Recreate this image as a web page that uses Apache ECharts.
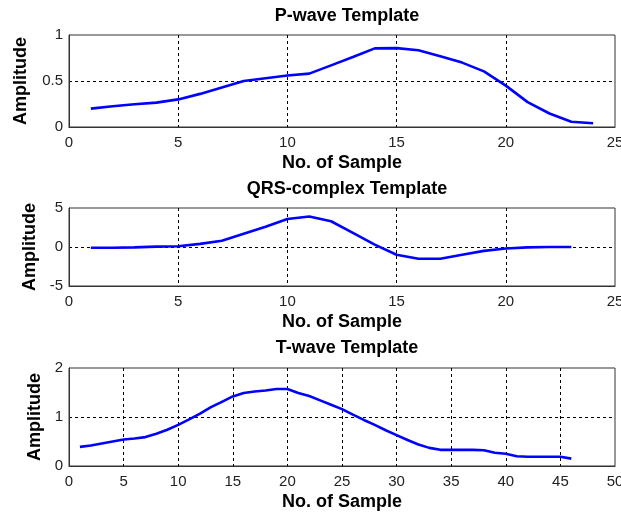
<!DOCTYPE html>
<html>
<head>
<meta charset="utf-8">
<script src="https://cdn.jsdelivr.net/npm/echarts@6/dist/echarts.min.js"></script>
<style>
  html, body { margin: 0; padding: 0; background: #fff; }
  #chart { width: 621px; height: 516px; }
</style>
</head>
<body>
<div id="chart"></div>
<script>
// Template waveforms (amplitude per sample, samples numbered from 1)
const pWave = [0.20, 0.226, 0.247, 0.265, 0.30, 0.36, 0.43, 0.50, 0.53, 0.56, 0.58, 0.67,
  0.76, 0.855, 0.857, 0.835, 0.77, 0.70, 0.605, 0.45, 0.27, 0.147, 0.057, 0.04];
const qrsComplex = [-0.1, -0.1, -0.05, 0.05, 0.1, 0.4, 0.8, 1.7, 2.6, 3.6, 3.9, 3.3,
  1.8, 0.3, -1.0, -1.5, -1.5, -1.0, -0.5, -0.2, -0.05, 0, 0];
const tWave = [0.39, 0.42, 0.46, 0.50, 0.54, 0.56, 0.59, 0.66, 0.74, 0.84, 0.95, 1.07,
  1.20, 1.31, 1.42, 1.49, 1.52, 1.54, 1.57, 1.57, 1.49, 1.43, 1.34, 1.25, 1.16, 1.05,
  0.94, 0.84, 0.73, 0.63, 0.53, 0.44, 0.37, 0.33, 0.33, 0.33, 0.33, 0.32, 0.27, 0.25,
  0.20, 0.19, 0.19, 0.19, 0.19, 0.15];

const titles = ['P-wave Template', 'QRS-complex Template', 'T-wave Template'];
const xLabel = 'No. of Sample';
const yLabel = 'Amplitude';

// Axis ranges per panel: [min, max, interval]
const xRanges = [[0, 25, 5], [0, 25, 5], [0, 50, 5]];
const yRanges = [[0, 1, 0.5], [-5, 5, 5], [0, 2, 1]];

const FONT = '"Liberation Sans", Arial, sans-serif';
const panels = [
  { top: 35, height: 92, titleTop: 2, yNameGap: 39 },
  { top: 208, height: 78, titleTop: 175, yNameGap: 29 },
  { top: 368, height: 98, titleTop: 334, yNameGap: 24 }
];
const waves = [pWave, qrsComplex, tWave];

const toPoints = arr => arr.map((v, i) => [i + 1, v]);

// Dotted grid only inside the box; the frame itself stays solid
const dashed = {
  show: true, showMinLine: false, showMaxLine: false,
  lineStyle: { color: '#000', width: 1, type: [3, 3] }
};

const option = {
  animation: false,
  backgroundColor: '#fff',
  title: panels.map((p, i) => ({
    text: titles[i],
    left: 342,
    textAlign: 'center',
    top: p.titleTop,
    textStyle: { fontFamily: FONT, fontSize: 18, fontWeight: 'bold', color: '#000' }
  })),
  grid: panels.map(p => ({
    left: 69, width: 546, top: p.top, height: p.height,
    outerBoundsMode: 'none',
    containLabel: false,
    show: true, borderColor: '#333', borderWidth: 1, backgroundColor: 'transparent'
  })),
  xAxis: panels.map((p, i) => ({
    gridIndex: i,
    type: 'value',
    min: xRanges[i][0], max: xRanges[i][1], interval: xRanges[i][2],
    name: xLabel,
    nameLocation: 'middle',
    nameGap: 27,
    nameTextStyle: { fontFamily: FONT, fontSize: 18, fontWeight: 'bold', color: '#000' },
    axisLine: { show: true, onZero: false, lineStyle: { color: '#333', width: 1 } },
    axisTick: { show: false },
    axisLabel: { margin: 8, fontFamily: FONT, fontSize: 15, color: '#222' },
    splitLine: dashed
  })),
  yAxis: panels.map((p, i) => ({
    gridIndex: i,
    type: 'value',
    min: yRanges[i][0], max: yRanges[i][1], interval: yRanges[i][2],
    name: yLabel,
    nameLocation: 'middle',
    nameGap: p.yNameGap,
    nameRotate: 90,
    nameTextStyle: { fontFamily: FONT, fontSize: 18, fontWeight: 'bold', color: '#000' },
    axisLine: { show: true, onZero: false, lineStyle: { color: '#333', width: 1 } },
    axisTick: { show: false },
    axisLabel: { margin: 6, fontFamily: FONT, fontSize: 15, color: '#222' },
    splitLine: dashed
  })),
  series: waves.map((w, i) => ({
    type: 'line',
    xAxisIndex: i,
    yAxisIndex: i,
    data: toPoints(w),
    showSymbol: false,
    lineStyle: { color: '#0000ff', width: 2.6 },
    z: 5
  }))
};

echarts.init(document.getElementById('chart'), null, { renderer: 'canvas' }).setOption(option);
</script>
</body>
</html>
